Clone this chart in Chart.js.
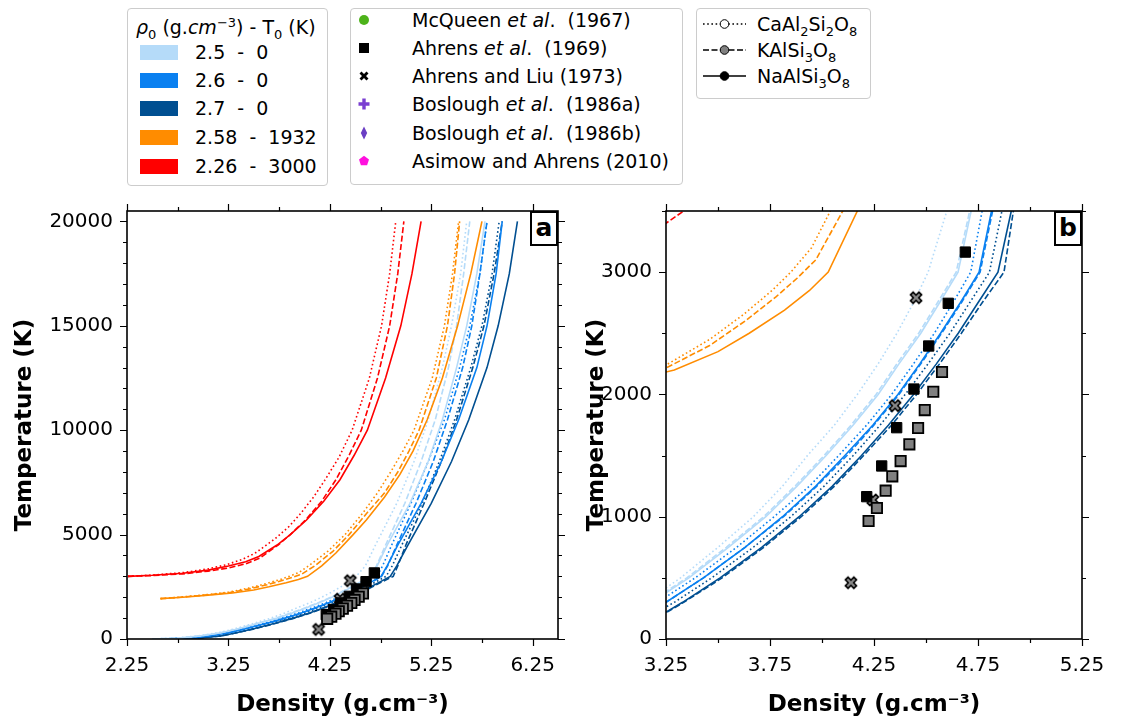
<!DOCTYPE html>
<html><head><meta charset="utf-8">
<script src="https://cdn.jsdelivr.net/npm/chart.js@4.4.0/dist/chart.umd.min.js"></script>
<style>
body{margin:0;width:1130px;height:722px;background:#fff;position:relative;overflow:hidden;font-family:"DejaVu Sans",sans-serif;color:#000;}
.box{position:absolute;border:1px solid #cccccc;border-radius:4px;background:#fff;}
.t{position:absolute;font-size:19px;line-height:24px;height:24px;white-space:pre;}
.t sub,.t sup{font-size:13px;line-height:0;}
.patch{position:absolute;width:38px;height:15px;}
.sym{position:absolute;}
canvas{position:absolute;}
.plab{position:absolute;border:2px solid #000;background:#fff;font-weight:bold;font-size:25px;text-align:center;box-sizing:border-box;}
</style></head><body>

<div class="box" style="left:127px;top:8px;width:199px;height:176px;"></div>
<div class="t" style="left:136px;top:15px;"><i>ρ</i><sub>0</sub> (g.<i>cm</i><sup>−3</sup>) - T<sub>0</sub> (K)</div>
<div class="patch" style="left:140px;top:45px;background:#b5dbf9"></div><div class="t" style="left:195px;top:40px;">2.5  -  0</div>
<div class="patch" style="left:140px;top:73px;background:#0a80f0"></div><div class="t" style="left:195px;top:68px;">2.6  -  0</div>
<div class="patch" style="left:140px;top:101px;background:#004f91"></div><div class="t" style="left:195px;top:96px;">2.7  -  0</div>
<div class="patch" style="left:140px;top:130px;background:#ff8c00"></div><div class="t" style="left:195px;top:125px;">2.58  -  1932</div>
<div class="patch" style="left:140px;top:159px;background:#ff0000"></div><div class="t" style="left:195px;top:154px;">2.26  -  3000</div>

<div class="box" style="left:350px;top:8px;width:331px;height:175px;"></div>
<svg class="sym" style="left:354px;top:10px" width="20" height="20"><circle cx="10" cy="10" r="5" fill="#4db31a"/></svg>
<div class="t" style="left:412px;top:8px;">McQueen <i>et al</i>.  (1967)</div>
<svg class="sym" style="left:354px;top:38px" width="20" height="20"><rect x="5" y="5" width="10" height="10" fill="#000"/></svg>
<div class="t" style="left:412px;top:36px;">Ahrens <i>et al</i>.  (1969)</div>
<svg class="sym" style="left:354px;top:66px" width="20" height="20"><path d="M10 10 m-4.5 -2.5 l2 -2 l2.5 2.5 l2.5 -2.5 l2 2 l-2.5 2.5 l2.5 2.5 l-2 2 l-2.5 -2.5 l-2.5 2.5 l-2 -2 l2.5 -2.5 z" fill="#000"/></svg>
<div class="t" style="left:412px;top:64px;">Ahrens and Liu (1973)</div>
<svg class="sym" style="left:354px;top:94px" width="20" height="20"><path d="M8.3 4.5 h3.4 v3.8 h3.8 v3.4 h-3.8 v3.8 h-3.4 v-3.8 h-3.8 v-3.4 h3.8 z" fill="#7a3fd1"/></svg>
<div class="t" style="left:412px;top:92px;">Boslough <i>et al</i>.  (1986a)</div>
<svg class="sym" style="left:354px;top:123px" width="20" height="20"><path d="M10 3.5 L13.2 10 L10 16.5 L6.8 10 Z" fill="#6b3fc4"/></svg>
<div class="t" style="left:412px;top:121px;">Boslough <i>et al</i>.  (1986b)</div>
<svg class="sym" style="left:354px;top:151px" width="20" height="20"><path d="M10 4.8 L15 8.4 L13.1 14.3 L6.9 14.3 L5 8.4 Z" fill="#ff10de"/></svg>
<div class="t" style="left:412px;top:149px;">Asimow and Ahrens (2010)</div>

<div class="box" style="left:696px;top:8px;width:173px;height:89px;"></div>
<svg class="sym" style="left:702px;top:14px" width="46" height="20"><line x1="1" y1="10" x2="44" y2="10" stroke="#000" stroke-width="1.6" stroke-dasharray="1.6 2.6"/><circle cx="22.5" cy="10" r="4.3" fill="#fff" stroke="#000" stroke-width="1"/></svg>
<div class="t" style="left:757px;top:12px;">CaAl<sub>2</sub>Si<sub>2</sub>O<sub>8</sub></div>
<svg class="sym" style="left:702px;top:40px" width="46" height="20"><line x1="1" y1="10" x2="44" y2="10" stroke="#000" stroke-width="1.6" stroke-dasharray="6 2.5"/><circle cx="22.5" cy="10" r="4.3" fill="#808080" stroke="#000" stroke-width="1"/></svg>
<div class="t" style="left:757px;top:38px;">KAlSi<sub>3</sub>O<sub>8</sub></div>
<svg class="sym" style="left:702px;top:66px" width="46" height="20"><line x1="1" y1="10" x2="44" y2="10" stroke="#000" stroke-width="1.6"/><circle cx="22.5" cy="10" r="4.3" fill="#000" stroke="#000" stroke-width="1"/></svg>
<div class="t" style="left:757px;top:64px;">NaAlSi<sub>3</sub>O<sub>8</sub></div>

<canvas id="ca" width="580" height="532" style="left:0px;top:190px;width:580px;height:532px;"></canvas>
<canvas id="cb" width="550" height="532" style="left:580px;top:190px;width:550px;height:532px;"></canvas>
<div class="plab" style="left:530px;top:211px;width:28px;height:35px;line-height:30px;">a</div>
<div class="plab" style="left:1054px;top:211px;width:28px;height:35px;line-height:30px;">b</div>

<script>
// ---------------- data ----------------
const T_blue = [0,50,150,300,500,750,1000,1250,1500,1750,2000,2250,2500,2750,3000,3500,4500,6500,8500,10500,13000,15000,17500,20000];
const rho_lb_solid  = [2.50,2.76,2.98,3.18,3.36,3.55,3.73,3.88,4.02,4.15,4.27,4.37,4.475,4.565,4.654,4.717,4.815,5.04,5.22,5.36,5.50,5.60,5.70,5.78];
const rho_lb_dotted = [2.50,2.74,2.95,3.15,3.32,3.50,3.67,3.81,3.93,4.06,4.17,4.27,4.36,4.44,4.51,4.60,4.70,4.91,5.08,5.22,5.36,5.45,5.54,5.60];
const rho_lb_dashed = [2.50,2.76,2.98,3.17,3.35,3.54,3.72,3.87,4.01,4.14,4.26,4.36,4.465,4.555,4.645,4.71,4.80,4.99,5.15,5.29,5.42,5.50,5.57,5.63];
const rho_b_solid   = [2.60,2.85,3.06,3.25,3.43,3.63,3.81,3.97,4.11,4.245,4.365,4.47,4.57,4.665,4.755,4.815,4.92,5.15,5.35,5.52,5.70,5.80,5.89,5.95];
const rho_b_dashed  = [2.60,2.85,3.06,3.25,3.43,3.63,3.815,3.975,4.12,4.25,4.37,4.475,4.575,4.67,4.76,4.82,4.91,5.10,5.27,5.41,5.56,5.65,5.73,5.80];
const rho_b_dotted  = [2.60,2.82,3.02,3.21,3.39,3.59,3.77,3.94,4.08,4.215,4.335,4.44,4.54,4.63,4.715,4.77,4.86,5.05,5.22,5.38,5.53,5.63,5.73,5.80];
const rho_db_solid  = [2.70,2.97,3.18,3.33,3.51,3.71,3.89,4.05,4.19,4.32,4.44,4.55,4.655,4.75,4.846,4.91,5.02,5.25,5.45,5.62,5.80,5.91,6.02,6.10];
const rho_db_dashed = [2.70,2.97,3.185,3.335,3.52,3.72,3.90,4.06,4.20,4.335,4.455,4.565,4.67,4.77,4.875,4.92,5.00,5.18,5.35,5.50,5.66,5.77,5.87,5.95];
const rho_db_dotted = [2.70,2.93,3.13,3.29,3.47,3.67,3.85,4.01,4.15,4.28,4.40,4.51,4.615,4.71,4.805,4.865,4.96,5.16,5.33,5.48,5.64,5.75,5.85,5.92];

const T_or_solid   = [1932,2000,2100,2200,2350,2500,2690,2850,3000,3500,4120,5000,5700,6800,7870,9000,10500,12500,15000,17500,20000];
const rho_or_solid = [2.58,2.80,3.05,3.29,3.50,3.65,3.82,3.94,4.03,4.17,4.31,4.48,4.61,4.79,4.94,5.07,5.21,5.36,5.51,5.64,5.75];
const T_or_dashed   = [1932,2000,2100,2216,2400,2600,2800,2950,3100,3500,4200,5000,6000,7000,8000,9000,10000,12500,15000,17500,20000];
const rho_or_dashed = [2.58,2.78,3.02,3.25,3.46,3.63,3.78,3.88,3.97,4.10,4.28,4.44,4.61,4.79,4.92,5.03,5.13,5.30,5.41,5.48,5.53];
const T_or_dotted   = [1932,2000,2100,2240,2450,2650,2850,3000,3200,3500,4200,5000,6000,7000,8000,9000,10000,12500,15000,17500,20000];
const rho_or_dotted = [2.58,2.76,2.99,3.25,3.46,3.62,3.76,3.85,3.95,4.04,4.23,4.40,4.57,4.72,4.85,4.97,5.08,5.26,5.38,5.46,5.52];

const T_red_solid   = [3000,3050,3150,3300,3500,3700,3950,4500,5000,5700,6600,7630,8800,10000,12500,15000,17500,20000];
const rho_red_solid = [2.26,2.50,2.80,3.05,3.25,3.42,3.55,3.73,3.86,4.02,4.19,4.35,4.49,4.62,4.80,4.95,5.06,5.15];
const T_red_dashed   = [3000,3040,3120,3250,3400,3600,3880,4500,5000,5700,6600,7630,8800,10000,12500,15000,17500,20000];
const rho_red_dashed = [2.26,2.50,2.80,3.05,3.25,3.42,3.56,3.74,3.86,4.01,4.17,4.31,4.44,4.56,4.72,4.84,4.92,4.98];
const T_red_dotted   = [3000,3060,3180,3360,3560,3800,4100,4800,5400,6000,6800,7600,8700,10000,12500,15000,17500,20000];
const rho_red_dotted = [2.26,2.50,2.80,3.05,3.23,3.38,3.51,3.71,3.85,3.96,4.09,4.20,4.34,4.47,4.64,4.76,4.84,4.90];

// Ahrens et al. (1969): NaAlSi3O8 (black) and KAlSi3O8 (grey); Ahrens and Liu (1973): KAlSi3O8
const rho_ahrens69_na = [4.689,4.607,4.513,4.442,4.359,4.287,4.215];
const T_ahrens69_na   = [3164,2745,2396,2044,1728,1415,1164];
const rho_ahrens69_k  = [4.577,4.535,4.494,4.462,4.420,4.378,4.338,4.306,4.264,4.224];
const T_ahrens69_k    = [2183,2022,1872,1725,1592,1455,1330,1213,1071,965];
const rho_ahrensliu_k = [4.452,4.351,4.244,4.139];
const T_ahrensliu_k   = [2791,1908,1137,460];

// ticks
const xMajorA = [2.25,3.25,4.25,5.25,6.25], xLabelsA = ['2.25','3.25','4.25','5.25','6.25'];
const xMinorA = [2.75,3.75,4.75,5.75];
const yMajorA = [0,5000,10000,15000,20000], yLabelsA = ['0','5000','10000','15000','20000'];
const yMinorA = [1000,2000,3000,4000,6000,7000,8000,9000,11000,12000,13000,14000,16000,17000,18000,19000];
const xMajorB = [3.25,3.75,4.25,4.75,5.25], xLabelsB = ['3.25','3.75','4.25','4.75','5.25'];
const xMinorB = [3.5,4.0,4.5,5.0];
const yMajorB = [0,1000,2000,3000], yLabelsB = ['0','1000','2000','3000'];
const yMinorB = [500,1500,2500,3500];

// ---------------- build ----------------
const C_LB='#b5dbf9', C_B='#0a80f0', C_DB='#004f91', C_OR='#ff8c00', C_RED='#ff0000';
const DOT=[1.6,2.6], DASH=[6,2.5];
function pts(r,t){return r.map((v,i)=>({x:v,y:t[i]}));}
function line(r,t,color,dash){return {type:'scatter',data:pts(r,t),showLine:true,borderColor:color,backgroundColor:color,borderWidth:1.6,borderDash:dash||[],pointRadius:0,clip:0,order:2};}

const xMark=(function(){const c=document.createElement('canvas');c.width=16;c.height=16;const g=c.getContext('2d');
  g.translate(8,8);g.rotate(Math.PI/4);const a=1.9,L=6;
  g.beginPath();g.moveTo(-a,-L);g.lineTo(a,-L);g.lineTo(a,-a);g.lineTo(L,-a);g.lineTo(L,a);g.lineTo(a,a);g.lineTo(a,L);g.lineTo(-a,L);g.lineTo(-a,a);g.lineTo(-L,a);g.lineTo(-L,-a);g.lineTo(-a,-a);g.closePath();
  g.fillStyle='#8a8a8a';g.fill();g.lineWidth=1.6;g.strokeStyle='#000';g.stroke();return c;})();

function datasets(){
  return [
    {type:'scatter',data:pts(rho_ahrens69_k,T_ahrens69_k),pointStyle:'rect',pointRadius:7.3,backgroundColor:'#808080',borderColor:'#000',borderWidth:1.8,clip:0,order:0},
    {type:'scatter',data:pts(rho_ahrens69_na,T_ahrens69_na),pointStyle:'rect',pointRadius:7.3,backgroundColor:'#000',borderColor:'#000',borderWidth:1,clip:0,order:0},
    {type:'scatter',data:pts(rho_ahrensliu_k,T_ahrensliu_k),pointStyle:xMark,pointRadius:7,clip:0,order:0},
    line(rho_red_dotted,T_red_dotted,C_RED,DOT),
    line(rho_red_dashed,T_red_dashed,C_RED,DASH),
    line(rho_red_solid,T_red_solid,C_RED),
    line(rho_or_dotted,T_or_dotted,C_OR,DOT),
    line(rho_or_dashed,T_or_dashed,C_OR,DASH),
    line(rho_or_solid,T_or_solid,C_OR),
    line(rho_lb_dotted,T_blue,C_LB,DOT),
    line(rho_lb_dashed,T_blue,C_LB,DASH),
    line(rho_lb_solid,T_blue,C_LB),
    line(rho_b_dotted,T_blue,C_B,DOT),
    line(rho_b_dashed,T_blue,C_B,DASH),
    line(rho_b_solid,T_blue,C_B),
    line(rho_db_dotted,T_blue,C_DB,DOT),
    line(rho_db_dashed,T_blue,C_DB,DASH),
    line(rho_db_solid,T_blue,C_DB)
  ];
}

const frameTicks={id:'frameTicks',afterDatasetsDraw(chart,args,o){
  const {ctx,chartArea:a,scales:{x,y}}=chart;
  ctx.save();ctx.strokeStyle='#000';ctx.lineWidth=1.2;ctx.beginPath();
  const xt=(vals,len)=>vals.forEach(v=>{const p=Math.round(x.getPixelForValue(v))+0.5;ctx.moveTo(p,a.bottom);ctx.lineTo(p,a.bottom+len);ctx.moveTo(p,a.top);ctx.lineTo(p,a.top-len);});
  const yt=(vals,len)=>vals.forEach(v=>{const p=Math.round(y.getPixelForValue(v))+0.5;ctx.moveTo(a.left,p);ctx.lineTo(a.left-len,p);ctx.moveTo(a.right,p);ctx.lineTo(a.right+len,p);});
  xt(o.xMajor,7);xt(o.xMinor,4);yt(o.yMajor,7);yt(o.yMinor,4);ctx.stroke();
  ctx.lineWidth=1.6;ctx.strokeRect(a.left,a.top,a.right-a.left,a.bottom-a.top);ctx.restore();}};

function makeChart(id,cfg){
  const tickFont={family:'DejaVu Sans',size:20};
  const titleFont={family:'DejaVu Sans',size:23,weight:'bold'};
  const noPad=s=>{s.paddingTop=0;s.paddingBottom=0;s.paddingLeft=0;s.paddingRight=0;};
  return new Chart(document.getElementById(id),{
    type:'scatter',
    data:{datasets:datasets()},
    plugins:[frameTicks],
    options:{
      responsive:false,animation:false,devicePixelRatio:1,
      layout:{padding:{top:21,right:cfg.padRight,left:0,bottom:0}},
      plugins:{legend:{display:false},tooltip:{enabled:false},
        frameTicks:{xMajor:cfg.xMajor,xMinor:cfg.xMinor,yMajor:cfg.yMajor,yMinor:cfg.yMinor}},
      scales:{
        x:{type:'linear',position:'bottom',min:cfg.xmin,max:cfg.xmax,
          afterBuildTicks:s=>{s.ticks=cfg.xMajor.map(v=>({value:v}));},
          afterFit:s=>{s.height=83;noPad(s);},
          grid:{display:false,drawTicks:false},border:{display:false},
          ticks:{font:tickFont,color:'#000',padding:15,maxRotation:0,autoSkip:false,callback:(v,i)=>cfg.xLabels[i]},
          title:{display:true,text:'Density (g.cm⁻³)',font:titleFont,color:'#000',padding:{top:0,bottom:3}}},
        y:{type:'linear',position:'left',min:0,max:cfg.ymax,
          afterBuildTicks:s=>{s.ticks=cfg.yMajor.map(v=>({value:v}));},
          afterFit:s=>{s.width=cfg.yWidth;noPad(s);},
          grid:{display:false,drawTicks:false},border:{display:false},
          ticks:{font:tickFont,color:'#000',padding:14,autoSkip:false,callback:(v,i)=>cfg.yLabels[i]},
          title:{display:true,text:'Temperature (K)',font:titleFont,color:'#000',padding:{top:cfg.yTitlePad,bottom:0}}}
      }
    }
  });
}

makeChart('ca',{xmin:2.25,xmax:6.5,ymax:20500,xMajor:xMajorA,xMinor:xMinorA,xLabels:xLabelsA,yMajor:yMajorA,yMinor:yMinorA,yLabels:yLabelsA,yWidth:127,padRight:22,yTitlePad:11});
makeChart('cb',{xmin:3.25,xmax:5.25,ymax:3500,xMajor:xMajorB,xMinor:xMinorB,xLabels:xLabelsB,yMajor:yMajorB,yMinor:yMinorB,yLabels:yLabelsB,yWidth:86,padRight:48,yTitlePad:3});
</script>
</body></html>
